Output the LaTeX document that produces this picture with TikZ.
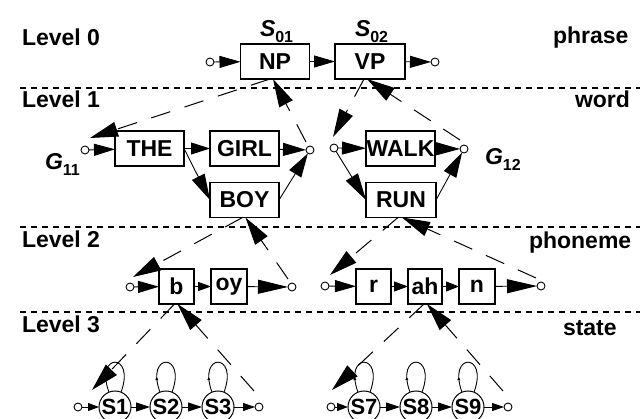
\documentclass[tikz,border=0pt]{standalone}
\usepackage{fontspec}
\setmainfont{Liberation Sans}
\usetikzlibrary{arrows.meta,decorations.markings}

% italic symbol with an upright subscript
\newcommand\symsub[2]{{\itshape #1}\raisebox{-6pt}{\fontsize{16}{16}\selectfont #2}}

\tikzset{
  every node/.style={inner sep=0pt, outer sep=0pt},
  txt/.style={font=\fontsize{23}{23}\selectfont\bfseries, anchor=base west},
  box/.style={draw, line width=1.1pt, minimum width=69pt, minimum height=35pt,
              font=\fontsize{23}{23}\selectfont\bfseries},
  pbox/.style={box, minimum width=35pt},
  port/.style={circle, draw, fill=white, line width=0.9pt, minimum size=8pt},
  state/.style={circle, draw, line width=1pt, minimum size=32pt,
                font=\fontsize{22}{22}\selectfont\bfseries},
  sep/.style={line width=1.2pt, dash pattern=on 6pt off 5pt},
  arw/.style 2 args={line width=0.9pt, -{Triangle[length=#1,width=#2]}},
  hier/.style={line width=1pt, dash pattern=on 20pt off 15pt,
               -{Triangle[length=28pt,width=15pt]}},
  selfloop/.style={line width=0.9pt, postaction={decorate},
    decoration={markings, mark=at position 0.22 with {\arrow{Triangle[length=3pt,width=3pt]}}}}
}

\begin{document}
\begin{tikzpicture}[x=1pt,y=-1pt]
\useasboundingbox (0,0) rectangle (642,419);

% level separators
\draw[sep] (20,88) -- (640,88);
\draw[sep] (20,227) -- (640,227);
\draw[sep] (20,312) -- (640,312);

% level names and unit names
\node[txt] at (22,46) {Level 0};
\node[txt] at (22,108) {Level 1};
\node[txt] at (22,248) {Level 2};
\node[txt] at (22,332) {Level 3};
\node[txt] at (553,44) {phrase};
\node[txt] at (575,108) {word};
\node[txt] at (529,249) {phoneme};
\node[txt] at (563,335) {state};

% ---- level 0: phrase network
\node[port] (c0i) at (210,62) {};
\node[box] (np) at (275,61.5) {NP};
\node[box, minimum width=70pt] (vp) at (370,61.5) {VP};
\node[port] (c0o) at (435,62) {};
\node[txt] at (260,37) {\symsub{S}{01}};
\node[txt] at (355,37) {\symsub{S}{02}};
\draw[arw={21pt}{12pt}] (c0i) -- (np);
\draw[arw={21pt}{12pt}] (np) -- (vp);
\draw[arw={21pt}{12pt}] (vp) -- (c0o);

% ---- level 1: word networks
\node[port] (g11i) at (85,150) {};
\node[box] (the) at (149.5,148.5) {THE};
\node[box] (girl) at (244.5,148.5) {GIRL};
\node[box] (boy) at (244.5,200) {BOY};
\node[port] (g11o) at (310,150) {};
\node[txt] at (45,170) {\symsub{G}{11}};
\draw[arw={21pt}{12pt}] (g11i) -- (the);
\draw[arw={19pt}{12pt}] (the) -- (girl);
\draw[arw={26pt}{14pt}] (the.east) -- (boy.west);
\draw[arw={23pt}{13pt}] (girl) -- (g11o);
\draw[arw={24pt}{14pt}] (boy.east) -- (g11o);

\node[port] (g12i) at (334,148) {};
\node[box] (walk) at (400.5,148.5) {WALK};
\node[box, minimum width=70pt] (run) at (401,200) {RUN};
\node[port] (g12o) at (464,149) {};
\node[txt] at (485,165) {\symsub{G}{12}};
\draw[arw={24pt}{13pt}] (g12i) -- (walk);
\draw[arw={27pt}{14pt}] (g12i) -- (run.west);
\draw[arw={24pt}{13pt}] (walk) -- (g12o);
\draw[arw={25pt}{14pt}] (run.east) -- (g12o);

% ---- level 2: phoneme networks
\node[port] (p1i) at (130,287) {};
\node[pbox] (b) at (176.5,286.5) {b};
\node[pbox, minimum width=36pt] (oy) at (229,286.5) {oy};
\node[port] (p1o) at (292,287) {};
\draw[arw={21pt}{12pt}] (p1i) -- (b);
\draw[arw={13pt}{9pt}] (b) -- (oy);
\draw[arw={30pt}{14pt}] (oy) -- (p1o);

\node[port] (p2i) at (325,286) {};
\node[pbox] (r) at (373.5,286.5) {r};
\node[pbox, minimum width=34pt] (ah) at (425,286.5) {ah};
\node[pbox, minimum width=36pt] (n) at (477,286.5) {n};
\node[port] (p2o) at (541,286) {};
\draw[arw={21pt}{12pt}] (p2i) -- (r);
\draw[arw={14pt}{10pt}] (r) -- (ah);
\draw[arw={13pt}{10pt}] (ah) -- (n);
\draw[arw={30pt}{14pt}] (n) -- (p2o);

% ---- level 3: state networks
\node[port] (q1i) at (78,407) {};
\node[state] (s1) at (115,407) {S1};
\node[state] (s2) at (166,407) {S2};
\node[state] (s3) at (218,407) {S3};
\node[port] (q1o) at (259,407) {};
\draw[arw={11pt}{8pt}] (q1i) -- (s1);
\draw[arw={14pt}{9pt}] (s1) -- (s2);
\draw[arw={14pt}{9pt}] (s2) -- (s3);
\draw[arw={12pt}{8pt}] (s3) -- (q1o);

\node[port] (q2i) at (331,407) {};
\node[state] (s7) at (364,407) {S7};
\node[state] (s8) at (416,407) {S8};
\node[state] (s9) at (468,407) {S9};
\node[port] (q2o) at (508,407) {};
\draw[arw={11pt}{8pt}] (q2i) -- (s7);
\draw[arw={14pt}{9pt}] (s7) -- (s8);
\draw[arw={14pt}{9pt}] (s8) -- (s9);
\draw[arw={12pt}{8pt}] (s9) -- (q2o);

% self transitions
\foreach \s in {s1,s2,s3,s7,s8,s9}
  \draw[selfloop] (\s.112) .. controls +(-15,-40) and +(15,-40) .. (\s.68);

% ---- expansion links between levels
\coordinate (e1) at (90,138);   \coordinate (f1) at (306,142);
\coordinate (e2) at (333,137);  \coordinate (f2) at (460,140);
\coordinate (e3) at (133,277);  \coordinate (f3) at (288,279);
\coordinate (e4) at (330,275);  \coordinate (f4) at (536,278);
\coordinate (e5) at (92,390);   \coordinate (f5) at (254,391);
\coordinate (e6) at (332,390);  \coordinate (f6) at (503,391);

\draw[hier] ([xshift=-5pt]np.south) -- (e1);
\draw[hier] (f1) -- ([xshift=-2pt]np.south);
\draw[hier] ([xshift=-6pt]vp.south) -- (e2);
\draw[hier] (f2) -- ([xshift=-3pt]vp.south);
\draw[hier] ([xshift=-2pt]boy.south) -- (e3);
\draw[hier] (f3) -- ([xshift=1pt]boy.south);
\draw[hier] ([xshift=-3pt]run.south) -- (e4);
\draw[hier] (f4) -- ([xshift=1pt]run.south);
\draw[hier] ([xshift=-2pt]b.south) -- (e5);
\draw[hier] (f5) -- ([xshift=1pt]b.south);
\draw[hier] ([xshift=-1pt]ah.south) -- (e6);
\draw[hier] (f6) -- ([xshift=2pt]ah.south);
\end{tikzpicture}
\end{document}
